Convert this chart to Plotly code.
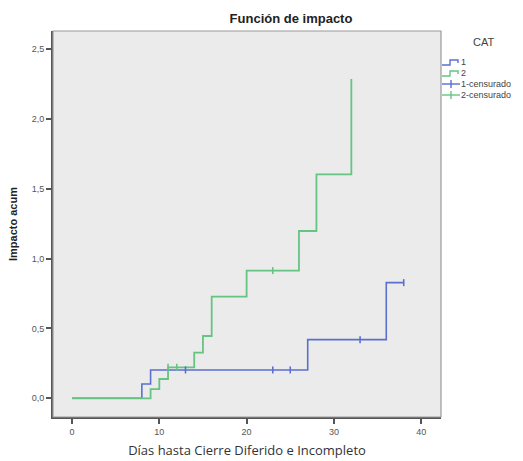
import plotly.graph_objects as go

# ---- data ----
cat1_time = [0, 8, 9, 27, 36, 38]
cat1_haz = [0.0, 0.102, 0.203, 0.42, 0.828, 0.828]
cat2_time = [0, 9, 10, 11, 14, 15, 16, 20, 26, 28, 32]
cat2_haz = [0.0, 0.065, 0.138, 0.222, 0.327, 0.446, 0.728, 0.914, 1.198, 1.604, 2.287]
cat1_cens_time = [13, 23, 25, 33, 38]
cat1_cens_haz = [0.203, 0.203, 0.203, 0.42, 0.828]
cat2_cens_time = [11, 12, 23]
cat2_cens_haz = [0.222, 0.222, 0.914]
x_ticks = [0, 10, 20, 30, 40]
y_ticks = [0.0, 0.5, 1.0, 1.5, 2.0, 2.5]
y_tick_labels = ["0,0", "0,5", "1,0", "1,5", "2,0", "2,5"]
legend_labels = ["1", "2", "1-censurado", "2-censurado"]

BLUE = "#5b6fcf"
GREEN = "#66c483"
W, H = 523, 461
L, R, T, B = 53, 441, 31, 417

fig = go.Figure()
fig.add_trace(go.Scatter(x=cat1_time, y=cat1_haz, mode="lines", line=dict(shape="hv", color=BLUE, width=1.6), showlegend=False))
fig.add_trace(go.Scatter(x=cat2_time, y=cat2_haz, mode="lines", line=dict(shape="hv", color=GREEN, width=1.8), showlegend=False))
fig.add_trace(go.Scatter(x=cat1_cens_time, y=cat1_cens_haz, mode="markers",
                         marker=dict(symbol="line-ns", size=5, line=dict(color=BLUE, width=1.6)), showlegend=False))
fig.add_trace(go.Scatter(x=cat2_cens_time, y=cat2_cens_haz, mode="markers",
                         marker=dict(symbol="line-ns", size=5, line=dict(color=GREEN, width=1.6)), showlegend=False))


def px(xp):
    return (xp - L) / (R - L)


def py(yp):
    return (B - yp) / (B - T)


shapes = []
annotations = []
font = "Liberation Sans, Arial, sans-serif"

# legend (drawn manually)
annotations.append(dict(x=px(483), y=py(42), xref="paper", yref="paper", text="CAT", showarrow=False,
                        font=dict(family=font, size=11, color="#444"), xanchor="center", yanchor="middle"))
leg_y = [62, 73, 84, 95]
leg_col = [BLUE, GREEN, BLUE, GREEN]
for i, lab in enumerate(legend_labels):
    yy = leg_y[i]
    c = leg_col[i]
    if i < 2:
        path = (f"M {px(442)},{py(yy+3)} L {px(450)},{py(yy+3)} L {px(450)},{py(yy-2)} "
                f"L {px(458)},{py(yy-2)} L {px(458)},{py(yy+1)}")
        shapes.append(dict(type="path", path=path, xref="paper", yref="paper", line=dict(color=c, width=1.4)))
    else:
        shapes.append(dict(type="line", x0=px(442), x1=px(460), y0=py(yy), y1=py(yy), xref="paper", yref="paper",
                           line=dict(color=c, width=1.4)))
        shapes.append(dict(type="line", x0=px(451), x1=px(451), y0=py(yy - 4), y1=py(yy + 4), xref="paper", yref="paper",
                           line=dict(color=c, width=1.4)))
    annotations.append(dict(x=px(459), y=py(yy), xref="paper", yref="paper", text=lab, showarrow=False,
                            font=dict(family=font, size=9, color="#444"), xanchor="left", yanchor="middle"))

# frame
shapes.append(dict(type="rect", x0=0, x1=1, y0=0, y1=1, xref="paper", yref="paper",
                   line=dict(color="#9a9a9a", width=1.2), layer="above"))

fig.update_layout(
    width=W, height=H,
    margin=dict(l=L, r=W - R, t=T, b=H - B, pad=0, autoexpand=False),
    paper_bgcolor="white", plot_bgcolor="#ebebeb",
    title=dict(text="<b>Función de impacto</b>", x=px(291), xref="paper", y=1 - 18 / H, yref="container",
               xanchor="center", yanchor="middle", automargin=False,
               font=dict(family=font, size=13, color="#222")),
    shapes=shapes, annotations=annotations,
    showlegend=False,
)
fig.update_xaxes(range=[-2.18, 42.27], tickvals=x_ticks, ticks="outside", ticklen=5, tickcolor="#555", tickwidth=1.5,
                 showgrid=False, zeroline=False, showline=True, linecolor="#555", linewidth=2, automargin=False,
                 tickfont=dict(family=font, size=9, color="#555"),
                 title=dict(text="Días hasta Cierre Diferido e Incompleto", standoff=10,
                            font=dict(family="Open Sans, sans-serif", size=13, color="#333")))
fig.update_yaxes(range=[-0.134, 2.63], tickvals=y_ticks, ticktext=y_tick_labels, ticks="outside", ticklen=5,
                 tickcolor="#555", tickwidth=1.5, automargin=False,
                 showgrid=False, zeroline=False, showline=True, linecolor="#555", linewidth=2,
                 tickfont=dict(family=font, size=9, color="#555"),
                 title=dict(text="<b>Impacto acum</b>", standoff=12, font=dict(family=font, size=11, color="#222")))

fig.write_html("out.html", config={"displayModeBar": False},
               post_script="document.body.style.margin='0px';document.body.style.padding='0px';")
